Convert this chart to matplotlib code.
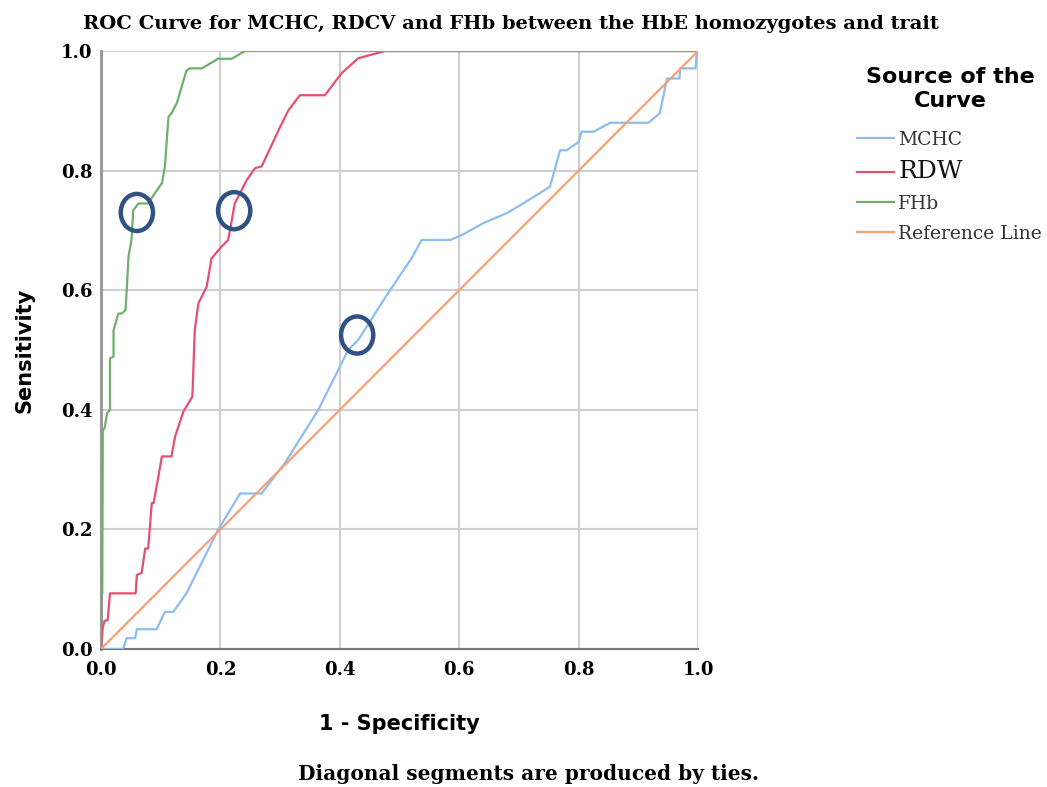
import matplotlib
matplotlib.use("Agg")
import matplotlib.pyplot as plt
from matplotlib.patches import Ellipse

# ROC points
mchc_x = [0, 0.037, 0.043, 0.057, 0.060, 0.093, 0.107, 0.121, 0.143, 0.196, 0.233, 0.269,
          0.308, 0.364, 0.414, 0.431, 0.484, 0.520, 0.537, 0.585, 0.604, 0.640, 0.680,
          0.707, 0.752, 0.769, 0.780, 0.800, 0.805, 0.825, 0.853, 0.917, 0.936, 0.948,
          0.969, 0.970, 0.996, 0.998, 1.0]
mchc_y = [0, 0, 0.018, 0.018, 0.033, 0.033, 0.062, 0.062, 0.093, 0.199, 0.260, 0.260,
          0.311, 0.400, 0.500, 0.517, 0.600, 0.653, 0.684, 0.684, 0.692, 0.712, 0.729,
          0.745, 0.773, 0.834, 0.834, 0.848, 0.865, 0.865, 0.880, 0.880, 0.896, 0.954,
          0.954, 0.971, 0.971, 1.0, 1.0]

rdw_x = [0, 0.003, 0.006, 0.011, 0.015, 0.058, 0.060, 0.068, 0.074, 0.079, 0.085, 0.088,
         0.096, 0.102, 0.118, 0.124, 0.138, 0.153, 0.157, 0.163, 0.177, 0.185, 0.202,
         0.213, 0.219, 0.224, 0.244, 0.258, 0.269, 0.300, 0.314, 0.333, 0.375, 0.403,
         0.431, 0.476, 1.0]
rdw_y = [0, 0.036, 0.047, 0.048, 0.093, 0.093, 0.124, 0.127, 0.168, 0.168, 0.244, 0.244,
         0.288, 0.322, 0.322, 0.355, 0.397, 0.422, 0.533, 0.578, 0.606, 0.653, 0.673,
         0.684, 0.717, 0.745, 0.784, 0.804, 0.807, 0.873, 0.901, 0.926, 0.926, 0.963,
         0.988, 1.0, 1.0]

fhb_x = [0, 0, 0.002, 0.003, 0.006, 0.010, 0.015, 0.015, 0.021, 0.021, 0.029, 0.035,
         0.041, 0.043, 0.046, 0.051, 0.054, 0.063, 0.079, 0.090, 0.102, 0.107, 0.113,
         0.118, 0.127, 0.143, 0.149, 0.169, 0.196, 0.219, 0.241, 1.0]
fhb_y = [0, 0.09, 0.093, 0.366, 0.369, 0.394, 0.400, 0.486, 0.489, 0.533, 0.561, 0.561,
         0.567, 0.600, 0.656, 0.684, 0.734, 0.745, 0.745, 0.762, 0.779, 0.807, 0.890,
         0.896, 0.913, 0.967, 0.971, 0.971, 0.987, 0.987, 1.0, 1.0]

ref_x = [0, 1]
ref_y = [0, 1]

# hand-drawn circle marks
mark_x = [0.060, 0.223, 0.429]
mark_y = [0.730, 0.733, 0.525]

ticks = [0.0, 0.2, 0.4, 0.6, 0.8, 1.0]
tick_labels = ["0.0", "0.2", "0.4", "0.6", "0.8", "1.0"]

serif = "DejaVu Serif"
sans = "DejaVu Sans"

fig = plt.figure(figsize=(10.47, 7.87), dpi=100)
ax = fig.add_axes([0.0965, 0.1754, 0.5702, 0.7598])

ax.plot(mchc_x, mchc_y, color="#8dbcef", lw=1.6, label="MCHC", zorder=3)
ax.plot(rdw_x, rdw_y, color="#e4506f", lw=1.6, label="RDW", zorder=3)
ax.plot(fhb_x, fhb_y, color="#6cb06a", lw=1.6, label="FHb", zorder=3)
ax.plot(ref_x, ref_y, color="#f5a07a", lw=1.6, label="Reference Line", zorder=3)

for mx, my in zip(mark_x, mark_y):
    ax.add_patch(Ellipse((mx, my), 0.054, 0.062, fill=False, ec="#2f5183", lw=3.2, zorder=5))

ax.set_xlim(0, 1)
ax.set_ylim(0, 1)
ax.set_xticks(ticks)
ax.set_yticks(ticks)
ax.set_xticklabels(tick_labels, family=serif, fontsize=13, fontweight="bold")
ax.set_yticklabels(tick_labels, family=serif, fontsize=13, fontweight="bold")
ax.tick_params(axis="x", length=0, pad=9)
ax.tick_params(axis="y", length=0, pad=6)
ax.grid(True, color="#cfcfcf", lw=1.5, zorder=0)
ax.set_axisbelow(True)
for s in ["top", "right"]:
    ax.spines[s].set_visible(False)
ax.spines["left"].set_color("#9a9a9a")
ax.spines["left"].set_linewidth(2.2)
ax.spines["bottom"].set_color("#777777")
ax.spines["bottom"].set_linewidth(1.5)

ax.set_xlabel("1 - Specificity", family=sans, fontweight="bold", fontsize=15, labelpad=25)
ax.set_ylabel("Sensitivity", family=sans, fontweight="bold", fontsize=15, labelpad=19)

fig.text(0.488, 0.969, "ROC Curve for MCHC, RDCV and FHb between the HbE homozygotes and trait",
         family=serif, fontweight="bold", fontsize=14, ha="center", va="center")
fig.text(0.505, 0.004, "Diagonal segments are produced by ties.",
         family=serif, fontweight="bold", fontsize=14.5, ha="center", va="bottom")

# legend title drawn on its own so the gap below it can be set
fig.text(0.908, 0.887, "Source of the\nCurve", family=sans, fontweight="bold", fontsize=16,
         ha="center", va="center", multialignment="center", linespacing=1.2)

leg = ax.legend(loc="upper left", bbox_to_anchor=(0.8185, 0.834), bbox_transform=fig.transFigure,
                frameon=False, handlelength=2.0, handletextpad=0.2,
                labelspacing=0.62, borderpad=0, borderaxespad=0,
                prop={"family": serif, "size": 13.5})
for t in leg.get_texts():
    t.set_color("#333333")
leg.get_texts()[1].set_fontsize(18)
leg.get_texts()[1].set_color("#111111")

fig.savefig("out.png", dpi=100)
